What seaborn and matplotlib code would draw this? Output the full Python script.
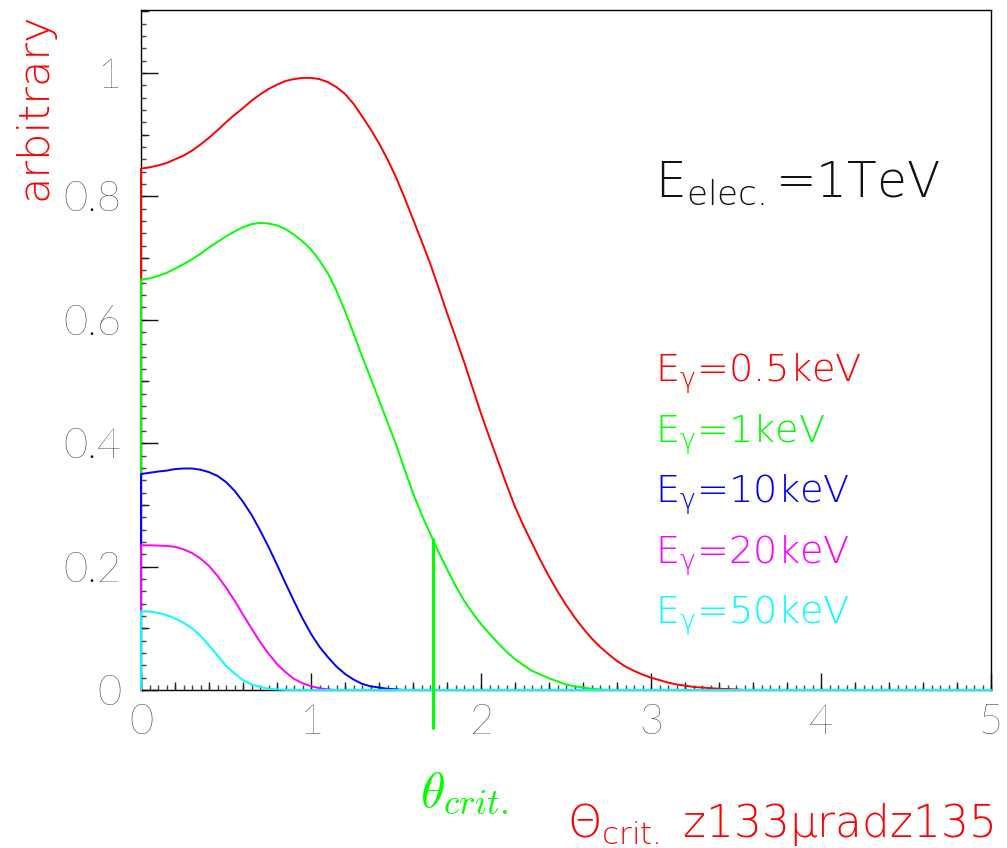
import numpy as np
import pandas as pd
import matplotlib
matplotlib.use("Agg")
import matplotlib.pyplot as plt
from matplotlib.ticker import MultipleLocator, FuncFormatter
import seaborn as sns

# Angular grid (sample points along theta)
theta = np.round(np.arange(0, 5.0001, 0.05), 2)

# Photon emission profiles for a 1 TeV electron, one per photon energy
spec_05kev = [0.845, 0.847, 0.850, 0.854, 0.860, 0.866, 0.874, 0.884, 0.895, 0.907,
              0.920, 0.932, 0.943, 0.955, 0.965, 0.974, 0.981, 0.987, 0.990, 0.992,
              0.992, 0.990, 0.985, 0.977, 0.966, 0.950, 0.930, 0.909, 0.886, 0.860,
              0.831, 0.798, 0.763, 0.728, 0.692, 0.652, 0.611, 0.572, 0.532, 0.490,
              0.448, 0.409, 0.371, 0.333, 0.297, 0.266, 0.238, 0.210, 0.184, 0.160,
              0.138, 0.118, 0.100, 0.084, 0.070, 0.058, 0.047, 0.038, 0.031, 0.025,
              0.020, 0.016, 0.012, 0.009, 0.007, 0.005, 0.004, 0.003, 0.002, 0.0015,
              0.001]
spec_1kev = [0.665, 0.667, 0.671, 0.676, 0.683, 0.690, 0.698, 0.707, 0.717, 0.726,
             0.735, 0.743, 0.750, 0.755, 0.757, 0.756, 0.753, 0.747, 0.738, 0.727,
             0.714, 0.696, 0.675, 0.647, 0.614, 0.578, 0.541, 0.506, 0.470, 0.434,
             0.398, 0.358, 0.319, 0.285, 0.254, 0.224, 0.196, 0.169, 0.145, 0.125,
             0.107, 0.091, 0.076, 0.062, 0.050, 0.040, 0.031, 0.025, 0.019, 0.014,
             0.009, 0.006, 0.004, 0.002, 0.001]
spec_10kev = [0.350, 0.352, 0.354, 0.3555, 0.358, 0.359, 0.359, 0.357, 0.353, 0.347,
              0.337, 0.323, 0.305, 0.284, 0.259, 0.232, 0.203, 0.173, 0.144, 0.116,
              0.091, 0.070, 0.053, 0.038, 0.026, 0.017, 0.010, 0.006, 0.004, 0.002,
              0.001]
spec_20kev = [0.2345, 0.2345, 0.234, 0.2335, 0.232, 0.228, 0.222, 0.213, 0.201, 0.185,
              0.166, 0.145, 0.122, 0.100, 0.078, 0.059, 0.042, 0.029, 0.018, 0.011,
              0.006, 0.003, 0.001]
spec_50kev = [0.1275, 0.1270, 0.125, 0.1215, 0.116, 0.109, 0.100, 0.088, 0.072, 0.056,
              0.039, 0.027, 0.016, 0.009, 0.005, 0.002, 0.001]

labels = ["0.5keV", "1keV", "10keV", "20keV", "50keV"]
colors = ["#ff0000", "#00ff00", "#0000ff", "#ff00ff", "#00ffff"]

theta_crit = 1.715

sns.set_style("white")
plt.rcParams["font.family"] = ["Lato", "DejaVu Sans"]
plt.rcParams["font.weight"] = "light"
plt.rcParams["mathtext.default"] = "regular"

ANNOT = ["DejaVu Sans"]

fig = plt.figure(figsize=(10.07, 8.48), dpi=100)
ax = fig.add_axes([141 / 1007, 1 - 690 / 848, 850 / 1007, 680 / 848])


def full(vals):
    v = np.zeros(len(theta))
    v[:len(vals)] = vals
    return v


series = [spec_05kev, spec_1kev, spec_10kev, spec_20kev, spec_50kev]
for vals, col in zip(series, colors):
    ys = full(vals)
    df = pd.DataFrame({"theta": np.concatenate([[0.0], theta]),
                       "val": np.concatenate([[0.0], ys])})
    sns.lineplot(data=df, x="theta", y="val", ax=ax, color=col, lw=1.4,
                 estimator=None, sort=False, zorder=3, clip_on=False)

# critical angle marker on the 1 keV curve
ax.plot([theta_crit, theta_crit], [-0.062, np.interp(theta_crit, theta, full(spec_1kev))],
        color="#00ff00", lw=2.2, clip_on=False, zorder=4)

ax.set_xlim(0, 5)
ax.set_ylim(0, 1.102)
ax.set_xlabel("")
ax.set_ylabel("")

for s in ax.spines.values():
    s.set_color("black")
    s.set_linewidth(1.0)

# ticks: major / medium / fine
ax.xaxis.set_major_locator(MultipleLocator(1))
ax.xaxis.set_minor_locator(MultipleLocator(0.2))
ax.yaxis.set_major_locator(MultipleLocator(0.2))
ax.yaxis.set_minor_locator(MultipleLocator(0.1))
ax.xaxis.set_major_formatter(FuncFormatter(lambda v, p: "%g" % v))
ax.yaxis.set_major_formatter(FuncFormatter(lambda v, p: "%g" % round(v, 2)))
ax.tick_params(axis="both", which="major", direction="in", length=12, width=1.0,
               labelsize=30, colors="#111111", bottom=True, left=True,
               top=False, right=False)
ax.tick_params(axis="both", which="minor", direction="in", length=5.8, width=1.0,
               bottom=True, left=True, top=False, right=False, colors="#222222")
ax.tick_params(axis="x", which="major", pad=10)
ax.tick_params(axis="y", which="major", pad=14)

secx = ax.secondary_xaxis("bottom")
secx.set_xticks(np.arange(0, 5.0001, 0.05))
secx.tick_params(direction="in", length=3.6, width=1.0, labelbottom=False, colors="#444444")
secx.spines["bottom"].set_visible(False)

secy = ax.secondary_yaxis("left")
secy.set_yticks(np.arange(0, 1.1001, 0.02))
secy.tick_params(direction="in", length=3.6, width=1.0, labelleft=False, colors="#444444")
secy.spines["left"].set_visible(False)

# annotations
fig.text(0.034, 0.985, "arbitrary", rotation=90, ha="center", va="top",
         color="#ff0000", fontsize=31, family=ANNOT)
fig.text(655 / 1007, 1 - 197 / 848, "E$_{elec.}$=1TeV", ha="left", va="baseline",
         color="#111111", fontsize=35, family=ANNOT)

baselines = [382, 443, 503, 564, 624]
for lab, col, b in zip(labels, colors, baselines):
    fig.text(655 / 1007, 1 - b / 848, "E$_{\\gamma}$=" + lab, ha="left",
             va="baseline", color=col, fontsize=27.5, family=ANNOT)

fig.text(464 / 1007, 1 - 806 / 848, r"$\mathit{\theta}_{\mathit{crit.}}$", ha="center",
         va="baseline", color="#00ff00", fontsize=36, math_fontfamily="cm")
fig.text(567 / 1007, 1 - 837 / 848, "Θ$_{crit.}$ z133μradz135", ha="left",
         va="baseline", color="#ff0000", fontsize=31.5, family=ANNOT)

fig.savefig("out.png", dpi=100)
